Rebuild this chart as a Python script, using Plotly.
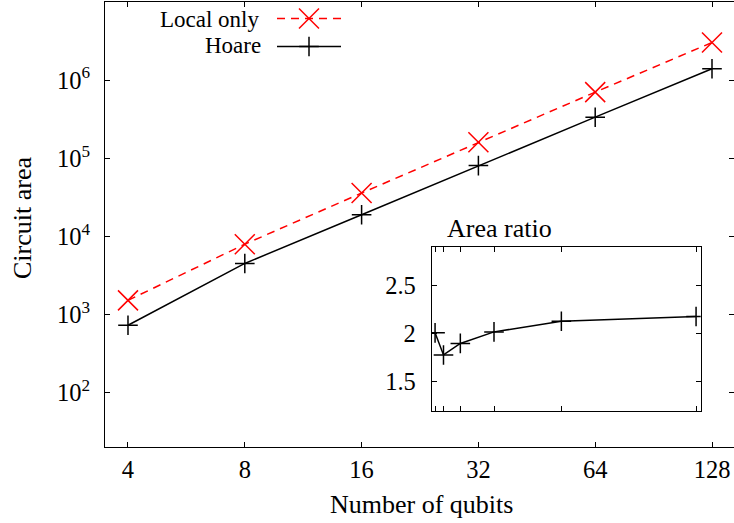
import math
import plotly.graph_objects as go

# ---------------- data ----------------
qubits = [4, 8, 16, 32, 64, 128]
local_only = [1520, 7950, 35900, 160000, 702000, 3030000]
hoare = [730, 4510, 18970, 80600, 335700, 1400000]
area_ratio = [2.01, 1.78, 1.90, 2.02, 2.13, 2.18]

x_tick_labels = ["4", "8", "16", "32", "64", "128"]
y_tick_vals = [1e2, 1e3, 1e4, 1e5, 1e6]
y_tick_labels = ["10<sup>2</sup>", "10<sup>3</sup>", "10<sup>4</sup>", "10<sup>5</sup>", "10<sup>6</sup>"]
inset_y_ticks = [1.5, 2, 2.5]
inset_y_labels = ["1.5", "2", "2.5"]
series_names = ["Local only", "Hoare"]

# ---------------- layout geometry (pixels) ----------------
W, H = 734, 523
L, R, T, B = 105, 0, 2, 76
pw, ph = W - L - R, H - T - B


def px_x(p):
    return (p - L) / pw


def px_y(p):
    return (H - B - p) / ph


FONT = "Liberation Serif, Times New Roman, serif"
FS = 24.5
FT = 26
FL = 23
RED = "#ff0000"

fig = go.Figure()

# main series
fig.add_trace(go.Scatter(
    x=qubits, y=local_only, name=series_names[0], mode="lines+markers",
    line=dict(color=RED, width=1.5, dash="8px,6px"),
    marker=dict(symbol="x-thin", size=20, line=dict(color=RED, width=1.5)),
    showlegend=False, xaxis="x", yaxis="y"))
fig.add_trace(go.Scatter(
    x=qubits, y=hoare, name=series_names[1], mode="lines+markers",
    line=dict(color="black", width=1.5),
    marker=dict(symbol="cross-thin", size=14, line=dict(color="black", width=1.5)),
    showlegend=False, xaxis="x", yaxis="y"))

# inset
fig.add_trace(go.Scatter(
    x=qubits, y=area_ratio, mode="lines+markers",
    line=dict(color="black", width=1.5),
    marker=dict(symbol="cross-thin", size=14, line=dict(color="black", width=1.5)),
    showlegend=False, xaxis="x4", yaxis="y4"))

# custom legend samples (gnuplot style: text then sample)
leg_rows = [0.78, 0.22]
fig.add_trace(go.Scatter(x=[0, 1], y=[leg_rows[0]] * 2, mode="lines",
                         line=dict(color=RED, width=1.5, dash="8px,6px"),
                         hoverinfo="skip", showlegend=False, xaxis="x3", yaxis="y3"))
fig.add_trace(go.Scatter(x=[0.5], y=[leg_rows[0]], mode="markers",
                         marker=dict(symbol="x-thin", size=20, line=dict(color=RED, width=1.5)),
                         hoverinfo="skip", showlegend=False, xaxis="x3", yaxis="y3"))
fig.add_trace(go.Scatter(x=[0, 1], y=[leg_rows[1]] * 2, mode="lines",
                         line=dict(color="black", width=1.5),
                         hoverinfo="skip", showlegend=False, xaxis="x3", yaxis="y3"))
fig.add_trace(go.Scatter(x=[0.5], y=[leg_rows[1]], mode="markers",
                         marker=dict(symbol="cross-thin", size=14, line=dict(color="black", width=1.5)),
                         hoverinfo="skip", showlegend=False, xaxis="x3", yaxis="y3"))

xr = [0.5428, 2.1639]
yr = [1.305, 7.0]

axis_common = dict(showgrid=False, zeroline=False, linecolor="black", linewidth=1,
                   ticks="inside", ticklen=5, tickcolor="black", tickwidth=1,
                   showline=True, mirror="ticks")

# legend rows at pixel y = 19.5 (Local only) and 45.5 (Hoare)
leg_top, leg_bot = 7.6, 57.4

fig.update_layout(
    width=W, height=H,
    margin=dict(l=L, r=R, t=T, b=B, pad=0),
    paper_bgcolor="white", plot_bgcolor="white",
    font=dict(family=FONT, size=FS, color="black"),
    xaxis=dict(type="log", range=xr, domain=[0, 1], anchor="y",
               tickvals=qubits, ticktext=x_tick_labels,
               ticklabelstandoff=1, **axis_common),
    yaxis=dict(type="log", range=yr, domain=[0, 1], anchor="x",
               tickvals=y_tick_vals, ticktext=y_tick_labels,
               ticklabelstandoff=9, **axis_common),
    xaxis3=dict(domain=[px_x(277), px_x(341)], range=[0, 1], anchor="y3", visible=False),
    yaxis3=dict(domain=[px_y(leg_bot), px_y(leg_top)], range=[0, 1], anchor="x3", visible=False),
    xaxis4=dict(domain=[px_x(431.7), px_x(700.7)], range=[2.4, 130.2], anchor="y4",
                tickvals=qubits, showticklabels=False, **axis_common),
    yaxis4=dict(domain=[px_y(410.7), px_y(247.3)], range=[1.2, 2.9], anchor="x4",
                tickvals=inset_y_ticks, ticktext=inset_y_labels,
                ticklabelstandoff=10, **axis_common),
    annotations=[
        dict(text=series_names[0], xref="paper", yref="paper", x=px_x(260), y=px_y(19.5),
             xanchor="right", yanchor="middle", showarrow=False, borderpad=0,
             font=dict(size=FL)),
        dict(text=series_names[1], xref="paper", yref="paper", x=px_x(262), y=px_y(45.5),
             xanchor="right", yanchor="middle", showarrow=False, borderpad=0,
             font=dict(size=FL)),
        dict(text="Area ratio", xref="paper", yref="paper", x=px_x(445), y=px_y(245),
             xanchor="left", yanchor="bottom", showarrow=False, font=dict(size=FT)),
        dict(text="Number of qubits", xref="paper", yref="paper", x=px_x(421.5), y=px_y(504),
             xanchor="center", yanchor="middle", showarrow=False, font=dict(size=FT)),
        dict(text="Circuit area", xref="paper", yref="paper", x=px_x(22), y=px_y(218),
             xanchor="center", yanchor="middle", textangle=-90, showarrow=False,
             font=dict(size=FT)),
    ],
)

fig.write_html("out.html")
